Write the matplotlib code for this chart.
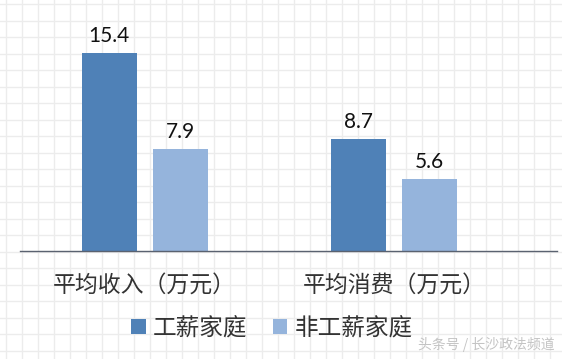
import numpy as np
import matplotlib
matplotlib.use('Agg')
import matplotlib.pyplot as plt
from matplotlib.patches import Patch

plt.rcParams['font.family'] = ['Noto Sans CJK SC', 'DejaVu Sans']

# data
categories = ['平均收入（万元）', '平均消费（万元）']
series_names = ['工薪家庭', '非工薪家庭']
wage = [15.4, 8.7]
non_wage = [7.9, 5.6]

COLORS = ['#4f81b7', '#95b4dc']

fig = plt.figure(figsize=(5.62, 3.59), dpi=100)
fig.patch.set_facecolor('white')

# faint background grid texture
bg = fig.add_axes([0, 0, 1, 1], zorder=0)
bg.set_xlim(0, 562)
bg.set_ylim(359, 0)
bg.axis('off')
for gx in np.arange(6, 562, 16):
    bg.axvline(gx, color='#ececec', lw=1.0)
for gy in np.arange(4, 359, 16.5):
    bg.axhline(gy, color='#ececec', lw=1.0)

ax = fig.add_axes([20 / 562, 108 / 359, 537 / 562, 251 / 359], zorder=1)
ax.patch.set_alpha(0)

x = np.arange(len(categories))
w = 0.22
off = 0.142
b1 = ax.bar(x - off, wage, w, color=COLORS[0], label=series_names[0])
b2 = ax.bar(x + off, non_wage, w, color=COLORS[1], label=series_names[1])

for bars, vals in [(b1, wage), (b2, non_wage)]:
    for bar, v in zip(bars, vals):
        ax.annotate(f'{v}', (bar.get_x() + bar.get_width() / 2, bar.get_height()),
                    xytext=(0, 5), textcoords='offset points',
                    ha='center', va='bottom', fontsize=15, color='#111111',
                    family=['Lato', 'DejaVu Sans'])

ax.set_xlim(-0.5, 1.652)
ax.set_ylim(0, 19.52)
ax.set_yticks([])
ax.set_xticks(x)
ax.set_xticklabels(categories, fontsize=16.5, color='#333333')
ax.tick_params(axis='x', length=0, pad=16)
for side in ['top', 'right', 'left']:
    ax.spines[side].set_visible(False)
ax.spines['bottom'].set_color('#5a6270')
ax.spines['bottom'].set_linewidth(1.0)

handles = [Patch(facecolor=COLORS[0]), Patch(facecolor=COLORS[1])]
fig.legend(handles, series_names, loc='center', bbox_to_anchor=(272 / 562, 31 / 359),
           ncol=2, frameon=False, fontsize=17, handlelength=0.6, handleheight=0.6,
           handletextpad=0.3, columnspacing=1.1, labelcolor='#333333')

fig.text(555 / 562, 14 / 359, '头条号 / 长沙政法频道', ha='right', va='center',
         fontsize=10, color='#c4c4c4')

plt.savefig('out.png', dpi=100, facecolor=fig.get_facecolor())
